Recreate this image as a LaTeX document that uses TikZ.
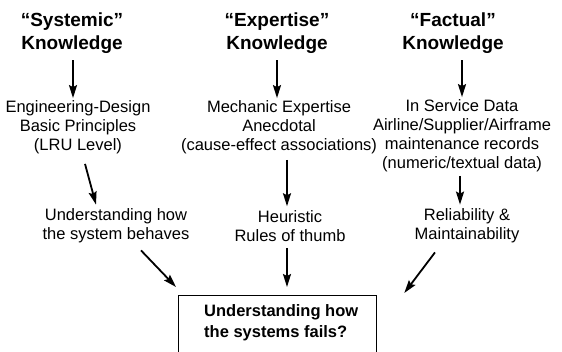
\documentclass[tikz,border=0pt]{standalone}
\usepackage{fontspec}
\setmainfont{Liberation Sans}
\usetikzlibrary{arrows.meta}
\begin{document}
\begin{tikzpicture}[x=1pt,y=1pt,
  title/.style={align=center,inner sep=0pt,font=\fontsize{19}{23}\selectfont\bfseries},
  body/.style={align=center,inner sep=0pt,font=\fontsize{16.5}{19}\selectfont},
  arr/.style={line width=1.8pt,-{Stealth[length=13pt,width=8pt,inset=2pt]}}]
\useasboundingbox (0,0) rectangle (562,351);
\clip (0,0) rectangle (562,351);

% column 1: systemic knowledge
\node[title] (sysT) at (72,317.5) {“Systemic”\\Knowledge};
\node[body]  (sysA) at (78,224) {Engineering-Design\\Basic Principles\\(LRU Level)};
\node[body]  (sysB) at (116,125) {Understanding how\\the system behaves};

% column 2: expertise knowledge
\node[title] (expT) at (277,317.5) {“Expertise”\\Knowledge};
\node[body]  (expA) at (279,224) {Mechanic Expertise\\Anecdotal\\(cause-effect associations)};
\node[body]  (expB) at (290,125) {Heuristic\\Rules of thumb};

% column 3: factual knowledge
\node[title] (facT) at (453,317.5) {“Factual”\\Knowledge};
\node[body]  (facA) at (462,215.5) {In Service Data\\Airline/Supplier/Airframe\\maintenance records\\(numeric/textual data)};
\node[body]  (facB) at (467,125) {Reliability \&\\Maintainability};

% goal box (runs past the lower edge) and its caption
\node[draw,line width=1.3pt,anchor=north west,inner sep=0pt,
      minimum width=198pt,minimum height=90pt] (goal) at (178,56) {};
\node[anchor=north west,inner sep=0pt,align=left,
      font=\fontsize{16.5}{21}\selectfont\bfseries] (goalT)
      at ([xshift=26pt,yshift=-9pt]goal.north west)
      {Understanding how\\the systems fails?};

% connectors
\draw[arr] ([xshift=1pt,yshift=-6pt]sysT.south) -- ([xshift=-5pt,yshift=2pt]sysA.north);
\draw[arr] ([xshift=7pt,yshift=-10pt]sysA.south) -- ([xshift=-20pt,yshift=4pt]sysB.north);
\draw[arr] ([xshift=25pt,yshift=-7pt]sysB.south) -- ([xshift=-2pt,yshift=8pt]goal.north west);

\draw[arr] ([yshift=-6pt]expT.south) -- ([xshift=-2pt,yshift=2pt]expA.north);
\draw[arr] ([xshift=8pt,yshift=-6pt]expA.south) -- ([xshift=-3pt,yshift=4pt]expB.north);
\draw[arr] ([xshift=-3pt,yshift=-6pt]expB.south) -- ([xshift=109pt,yshift=8pt]goal.north west);

\draw[arr] ([xshift=9pt,yshift=-6pt]facT.south) -- ([yshift=2pt]facA.north);
\draw[arr] ([xshift=-2pt,yshift=-4pt]facA.south) -- ([xshift=-7pt,yshift=4pt]facB.north);
\draw[arr] ([xshift=-32pt,yshift=-9pt]facB.south) -- ([xshift=27pt,yshift=2pt]goal.north east);
\end{tikzpicture}
\end{document}
